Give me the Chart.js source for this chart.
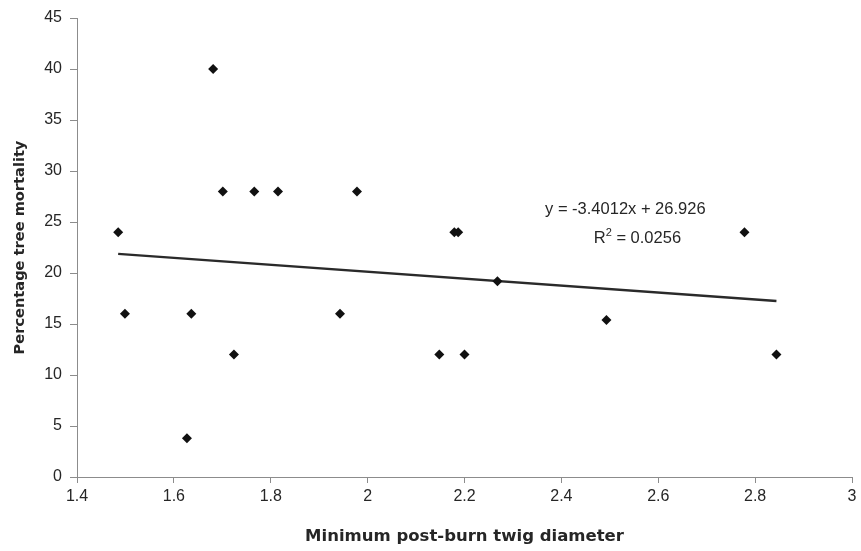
<!DOCTYPE html>
<html>
<head>
<meta charset="utf-8">
<script src="https://cdn.jsdelivr.net/npm/chart.js@4/dist/chart.umd.min.js"></script>
<style>
  html, body { margin: 0; padding: 0; background: #fff; }
  #wrap { width: 861px; height: 551px; }
</style>
</head>
<body>
<div id="wrap"><canvas id="mortalityChart" width="861" height="551"></canvas></div>
<script>
// twig diameter vs mortality, one point per site
var diameter  = [1.485, 1.499, 1.627, 1.636, 1.681, 1.701, 1.724, 1.766, 1.815, 1.943, 1.978, 2.148, 2.179, 2.187, 2.200, 2.268, 2.493, 2.778, 2.844];
var mortality = [24, 16, 3.8, 16, 40, 28, 12, 28, 28, 16, 28, 12, 24, 24, 12, 19.2, 15.4, 24, 12];

// linear fit as printed on the chart
var slope = -3.4012;
var intercept = 26.926;
var rSquared = 0.0256;

var xTicks = [1.4, 1.6, 1.8, 2, 2.2, 2.4, 2.6, 2.8, 3];
var yTicks = [0, 5, 10, 15, 20, 25, 30, 35, 40, 45];

var points = [];
for (var i in diameter) {
  points.push({x: diameter[i], y: mortality[i]});
}

var xMin = Math.min.apply(null, diameter);
var xMax = Math.max.apply(null, diameter);
var trend = [
  {x: xMin, y: slope * xMin + intercept},
  {x: xMax, y: slope * xMax + intercept}
];

var FONT = "'Liberation Sans', Arial, sans-serif";
var TITLE_FONT = "'DejaVu Sans', 'Liberation Sans', sans-serif";
var AXIS_GREY = "#8c8c8c";
var TEXT = "#262626";

// writes the fit equation and R^2 next to the trendline
var equationLabel = {
  id: 'equationLabel',
  afterDatasetsDraw: function(chart) {
    var ctx = chart.ctx;
    var xs = chart.scales.x, ys = chart.scales.y;
    var eq = "y = " + slope + "x + " + intercept;
    ctx.save();
    ctx.fillStyle = TEXT;
    ctx.textBaseline = "middle";
    ctx.font = "16.5px " + FONT;
    ctx.textAlign = "center";
    ctx.fillText(eq, xs.getPixelForValue(2.532), ys.getPixelForValue(26.27));

    // R² line with a raised 2
    var cx = xs.getPixelForValue(2.557), cy = ys.getPixelForValue(23.42);
    var a = "R", b = "2", c = " = " + rSquared.toFixed(4);
    ctx.font = "16.5px " + FONT;
    var wa = ctx.measureText(a).width, wc = ctx.measureText(c).width;
    ctx.font = "11px " + FONT;
    var wb = ctx.measureText(b).width;
    var left = cx - (wa + wb + wc) / 2;
    ctx.textAlign = "left";
    ctx.font = "16.5px " + FONT;
    ctx.fillText(a, left, cy);
    ctx.font = "11px " + FONT;
    ctx.fillText(b, left + wa, cy - 5);
    ctx.font = "16.5px " + FONT;
    ctx.fillText(c, left + wa + wb, cy);
    ctx.restore();
  }
};

var ctx = document.getElementById("mortalityChart");

var scatter = new Chart(ctx, {
  type: 'scatter',
  data: {
    datasets: [
      {
        label: "mortality",
        data: points,
        pointStyle: 'rectRot',
        pointRadius: 5,
        pointHoverRadius: 5,
        backgroundColor: "#111111",
        borderColor: "#111111",
        borderWidth: 0
      },
      {
        type: 'line',
        label: "trend",
        data: trend,
        borderColor: "#2a2a2a",
        borderWidth: 2.5,
        pointRadius: 0,
        fill: false
      }
    ]
  },
  options: {
    responsive: false,
    animation: { duration: 0 },
    layout: { padding: { left: 0, right: 9, top: 18, bottom: 0 } },
    plugins: {
      legend: { display: false },
      tooltip: { enabled: false }
    },
    scales: {
      x: {
        type: 'linear',
        min: 1.4,
        max: 3,
        afterBuildTicks: function(scale) {
          scale.ticks = xTicks.map(function(v) { return {value: v}; });
        },
        afterFit: function(scale) { scale.height = 74; },
        grid: { drawOnChartArea: false, drawTicks: true, tickLength: 6, color: AXIS_GREY },
        border: { display: true, color: AXIS_GREY, width: 1 },
        ticks: {
          padding: 4,
          color: TEXT,
          font: { family: FONT, size: 16 },
          callback: function(v) { return String(+v.toFixed(1)); }
        },
        title: {
          display: true,
          text: "Minimum post-burn twig diameter",
          color: TEXT,
          font: { family: TITLE_FONT, size: 16.5, weight: 'bold' },
          padding: { top: 0, bottom: 4 }
        }
      },
      y: {
        type: 'linear',
        min: 0,
        max: 45,
        afterBuildTicks: function(scale) {
          scale.ticks = yTicks.map(function(v) { return {value: v}; });
        },
        afterFit: function(scale) { scale.width = 77; },
        grid: { drawOnChartArea: false, drawTicks: true, tickLength: 7, color: AXIS_GREY },
        border: { display: true, color: AXIS_GREY, width: 1 },
        ticks: {
          padding: 8,
          color: TEXT,
          font: { family: FONT, size: 16 }
        },
        title: {
          display: true,
          text: "Percentage tree mortality",
          color: TEXT,
          font: { family: TITLE_FONT, size: 14.6, weight: 'bold' },
          padding: { top: 11, bottom: 0 }
        }
      }
    }
  },
  plugins: [equationLabel]
});
</script>
</body>
</html>
